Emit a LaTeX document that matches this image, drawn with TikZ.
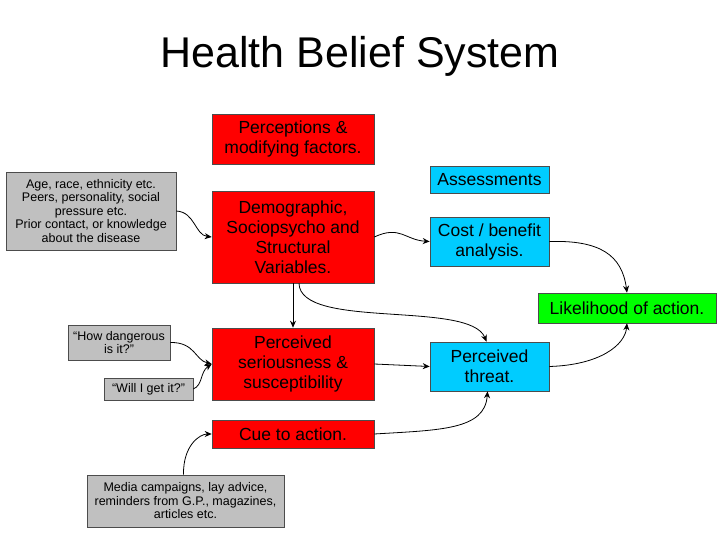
\documentclass[tikz,border=0pt]{standalone}
\usepackage{fontspec}
\setmainfont{Liberation Sans}
\usetikzlibrary{arrows.meta}
\definecolor{rbox}{HTML}{FF0000}
\definecolor{cbox}{HTML}{00CCFF}
\definecolor{gbox}{HTML}{00FF00}
\definecolor{grbox}{HTML}{C0C0C0}
\begin{document}
\begin{tikzpicture}[x=1pt,y=-1pt,
  bx/.style={draw=black!70,line width=0.6pt,align=center,inner sep=1pt},
  big/.style={bx,font=\fontsize{17.5}{20}\selectfont},
  small/.style={bx,fill=grbox,font=\fontsize{12.5}{13.5}\selectfont},
  arr/.style={-{Stealth[length=7pt,width=6pt]},line width=0.8pt}]
\useasboundingbox[fill=white] (0,0) rectangle (720,540);
\node[font=\fontsize{43}{45}\selectfont] (title) at (360,56) {Health Belief System};
\node[big,fill=rbox,minimum width=162,minimum height=50] (perc) at (293,139) {Perceptions \&\\modifying factors.};
\node[big,fill=cbox,minimum width=119,minimum height=27] (assess) at (489.5,179.5) {Assessments};
\node[small,minimum width=170,minimum height=78] (age) at (91,211) {Age, race, ethnicity etc.\\Peers, personality, social\\pressure etc.\\Prior contact, or knowledge\\about the disease};
\node[big,fill=rbox,minimum width=162,minimum height=92] (demo) at (293,237) {Demographic,\\Sociopsycho and\\Structural\\Variables.};
\node[big,fill=cbox,minimum width=119,minimum height=49] (cost) at (489.5,241.5) {Cost / benefit\\analysis.};
\node[big,fill=gbox,minimum width=178,minimum height=30] (like) at (627,308) {Likelihood of action.};
\node[small,minimum width=102,minimum height=35] (dang) at (119,342.5) {``How dangerous\\is it?''};
\node[big,fill=rbox,minimum width=162,minimum height=72] (seri) at (293,364) {Perceived\\seriousness \&\\susceptibility};
\node[big,fill=cbox,minimum width=119,minimum height=49] (threat) at (489.5,366.5) {Perceived\\threat.};
\node[small,minimum width=89,minimum height=22] (will) at (148.5,389) {``Will I get it?''};
\node[big,fill=rbox,minimum width=162,minimum height=28] (cue) at (293,434) {Cue to action.};
\node[small,minimum width=197,minimum height=52] (media) at (185.5,501) {Media campaigns, lay advice,\\reminders from G.P., magazines,\\articles etc.};
\draw[arr] (age.east) .. controls (195,212) and (195,235) .. (demo.west);
\draw[arr] (demo.east) .. controls (400,225) and (405,240) .. (cost.west);
\draw[arr] (demo.south) -- (seri.north);
\draw[arr] ([xshift=6pt]demo.south) .. controls (300,330) and (470,300) .. ([xshift=-3pt]threat.north);
\draw[arr] (cost.east) .. controls (600,240) and (622,255) .. (like.north);
\draw[arr] (threat.east) .. controls (600,365) and (625,345) .. (like.south);
\draw[arr] (seri.east) -- (threat.west);
\draw[arr] (cue.east) .. controls (440,430) and (485,430) .. ([xshift=-2pt]threat.south);
\draw[arr] (dang.east) .. controls (195,342) and (195,360) .. (seri.west);
\draw[arr] (will.east) .. controls (203,385) and (200,372) .. (seri.west);
\draw[arr] ([xshift=-2pt]media.north) .. controls (183,445) and (200,434) .. (cue.west);
\end{tikzpicture}
\end{document}
